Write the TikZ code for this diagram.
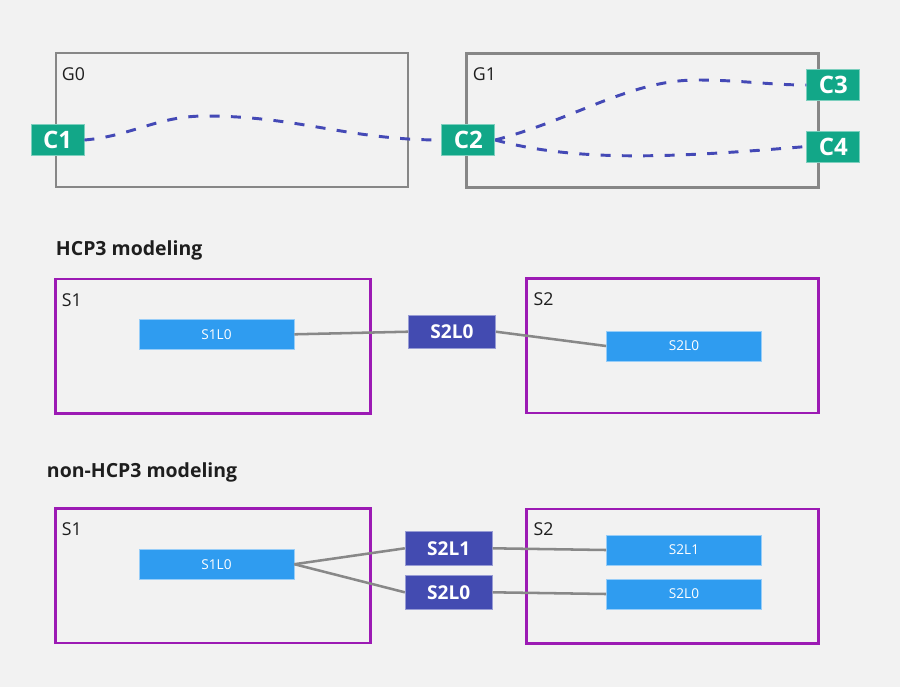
\documentclass[tikz,border=0pt]{standalone}
\usepackage{fontspec}
\setmainfont{Open Sans}
\usepackage{xcolor}

\definecolor{bgc}{HTML}{F2F2F2}
\definecolor{grpgray}{HTML}{878787}
\definecolor{segpurple}{HTML}{9C1AB4}
\definecolor{connteal}{HTML}{12A788}
\definecolor{laneblue}{HTML}{2F9CF0}
\definecolor{linkindigo}{HTML}{434BB1}
\definecolor{routeblue}{HTML}{4449B6}
\definecolor{wiregray}{HTML}{888888}
\definecolor{txt}{HTML}{1E1E1E}

\begin{document}
\begin{tikzpicture}[
    x=0.75pt, y=-0.75pt,
    grpframe/.style={rectangle, draw=grpgray, line width=2.1pt, minimum width=264pt, minimum height=100.5pt},
    segframe/.style={rectangle, draw=segpurple, line width=2pt, minimum height=101pt},
    connbox/.style={rectangle, fill=connteal, draw=connteal!55!white, line width=0.6pt, inner sep=0pt, minimum width=39.75pt, minimum height=23.25pt, text=white, font=\fontsize{18}{18}\selectfont\bfseries},
    lanebox/.style={rectangle, fill=laneblue, draw=laneblue!50!white, line width=0.6pt, inner sep=0pt, minimum width=116.25pt, minimum height=22.5pt, text=white, font=\fontsize{10.2}{10.2}\selectfont},
    linkbox/.style={rectangle, fill=linkindigo, draw=linkindigo!55!white, line width=0.6pt, inner sep=0pt, minimum width=65.25pt, minimum height=25pt, text=white, font=\fontsize{14.3}{14.3}\selectfont\bfseries},
    lbl/.style={anchor=base west, inner sep=0pt, text=txt, font=\fontsize{13.3}{13.3}\selectfont},
    heading/.style={anchor=base west, inner sep=0pt, text=txt, font=\fontsize{14.6}{14.6}\selectfont\bfseries},
    route/.style={draw=routeblue, line width=2.2pt, dash pattern=on 7.5pt off 8.5pt},
    wire/.style={draw=wiregray, line width=1.9pt}
]
    \useasboundingbox (0,0) rectangle (900,687);
    \fill[bgc] (0,0) rectangle (900,687);

    % Groups
    \node[grpframe] (g0) at (232,120) {};
    \node[grpframe] (g1) at (642.5,120.5) {};
    \node[lbl] (g0lbl) at (61.7,80) {G0};
    \node[lbl] (g1lbl) at (472.7,80) {G1};

    % Connectors
    \node[connbox] (c1) at (57.5,140) {C1};
    \node[connbox] (c2) at (468.3,140) {C2};
    \node[connbox] (c3) at (833.3,85) {C3};
    \node[connbox] (c4) at (833.3,146.5) {C4};
    \coordinate (c1top) at (205,116);
    \coordinate (c3top) at (697,80);

    % HCP3 modeling
    \node[heading] (hcp) at (55.7,255) {HCP3 modeling};
    \node[segframe, minimum width=236.25pt] (s1a) at (213.2,346.2) {};
    \node[segframe, minimum width=219pt] (s2a) at (672.7,345.8) {};
    \node[lbl] (s1albl) at (61.7,306) {S1};
    \node[lbl] (s2albl) at (533.3,305.5) {S2};
    \node[lanebox] (s1l0a) at (216.5,334.3) {S1L0};
    \node[linkbox] (s2l0a) at (452,331.7) {S2L0};
    \node[lanebox] (s2l0ai) at (684,346) {S2L0};

    % non-HCP3 modeling
    \node[heading] (nonhcp) at (46.7,477.7) {non-HCP3 modeling};
    \node[segframe, minimum width=236.25pt] (s1b) at (213.2,575.8) {};
    \node[segframe, minimum width=219pt] (s2b) at (672.7,576.2) {};
    \node[lbl] (s1blbl) at (61.7,535) {S1};
    \node[lbl] (s2blbl) at (533.3,535) {S2};
    \node[lanebox] (s1l0b) at (216.5,564.2) {S1L0};
    \node[linkbox] (s2l1b) at (448.7,548.3) {S2L1};
    \node[linkbox] (s2l0b) at (448.7,592.3) {S2L0};
    \node[lanebox] (s2l1bi) at (684,550) {S2L1};
    \node[lanebox] (s2l0bi) at (684,594) {S2L0};

    % Routes
    \draw[route] (c1.east) .. controls (132,136) and (157,116) .. (c1top)
        .. controls (298,116) and (348,140) .. (c2.west);
    \draw[route] (c2.east) .. controls (575,119) and (630,80) .. (c3top)
        .. controls (740,80) and (770,85) .. (c3.west);
    \draw[route] (c2.east) .. controls (580,163) and (680,157) .. (c4.west);

    % Wires
    \draw[wire] (s1l0a.east) -- (s2l0a.west);
    \draw[wire] (s2l0a.east) -- (s2l0ai.west);
    \draw[wire] (s1l0b.east) -- (s2l1b.west);
    \draw[wire] (s1l0b.east) -- (s2l0b.west);
    \draw[wire] (s2l1b.east) -- (s2l1bi.west);
    \draw[wire] (s2l0b.east) -- (s2l0bi.west);

\end{tikzpicture}
\end{document}
